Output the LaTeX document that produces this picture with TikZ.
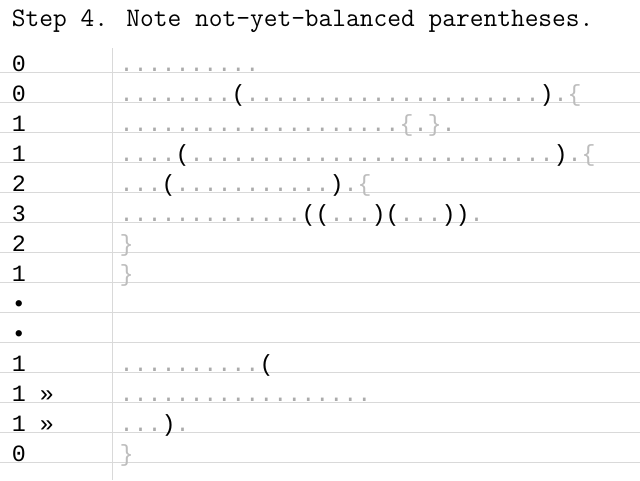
\documentclass[tikz,border=0pt]{standalone}
\usepackage{fontspec}
\usepackage{xcolor}
\newfontfamily\rowfont{Liberation Mono}
\definecolor{gridc}{HTML}{D9D9D9}
\definecolor{dotc}{HTML}{ABABAB}
\definecolor{bracec}{HTML}{BDBDBD}
\newcommand\dt[1]{\textcolor{dotc}{#1}}
\newcommand\br[1]{\textcolor{bracec}{#1}}
\begin{document}
\begin{tikzpicture}[x=1pt,y=-1pt,
  gridline/.style={draw=gridc, line width=1pt},
  rowtxt/.style={anchor=base west, inner sep=0pt, outer sep=0pt, font=\rowfont\fontsize{23.333}{28}\selectfont},
  titletxt/.style={anchor=base west, inner sep=0pt, outer sep=0pt, font=\ttfamily\fontsize{26.67}{30}\selectfont}]
\useasboundingbox (0,0) rectangle (640,480);
\fill[white] (0,0) rectangle (640,480);
% grid
\draw[gridline] (112.7,48) -- (112.7,480);
\foreach \k in {0,...,13}{
  \draw[gridline] (0,72.3+30*\k) -- (640,72.3+30*\k);
}
% title
\node[titletxt] (title) at (12,26) {Step 4. Note not-yet-balanced parentheses.};
% left column
\node[rowtxt] (l1) at (12,71) {0};
\node[rowtxt] (l2) at (12,101) {0};
\node[rowtxt] (l3) at (12,131) {1};
\node[rowtxt] (l4) at (12,161) {1};
\node[rowtxt] (l5) at (12,191) {2};
\node[rowtxt] (l6) at (12,221) {3};
\node[rowtxt] (l7) at (12,251) {2};
\node[rowtxt] (l8) at (12,281) {1};
\node[rowtxt] (l9) at (12,311) {•};
\node[rowtxt] (l10) at (12,341) {•};
\node[rowtxt] (l11) at (12,371) {1};
\node[rowtxt] (l12) at (12,401) {1 »};
\node[rowtxt] (l13) at (12,431) {1 »};
\node[rowtxt] (l14) at (12,461) {0};
% right column
\node[rowtxt] (r1) at (119.5,71) {\dt{..........}};
\node[rowtxt] (r2) at (119.5,101) {\dt{........}(\dt{.....................})\dt{.}\br{\{}};
\node[rowtxt] (r3) at (119.5,131) {\dt{....................}\br{\{}\dt{.}\br{\}}\dt{.}};
\node[rowtxt] (r4) at (119.5,161) {\dt{....}(\dt{..........................})\dt{.}\br{\{}};
\node[rowtxt] (r5) at (119.5,191) {\dt{...}(\dt{...........})\dt{.}\br{\{}};
\node[rowtxt] (r6) at (119.5,221) {\dt{.............}((\dt{...})(\dt{...}))\dt{.}};
\node[rowtxt] (r7) at (119.5,251) {\br{\}}};
\node[rowtxt] (r8) at (119.5,281) {\br{\}}};
\node[rowtxt] (r11) at (119.5,371) {\dt{..........}(};
\node[rowtxt] (r12) at (119.5,401) {\dt{..................}};
\node[rowtxt] (r13) at (119.5,431) {\dt{...})\dt{.}};
\node[rowtxt] (r14) at (119.5,461) {\br{\}}};
\end{tikzpicture}
\end{document}
